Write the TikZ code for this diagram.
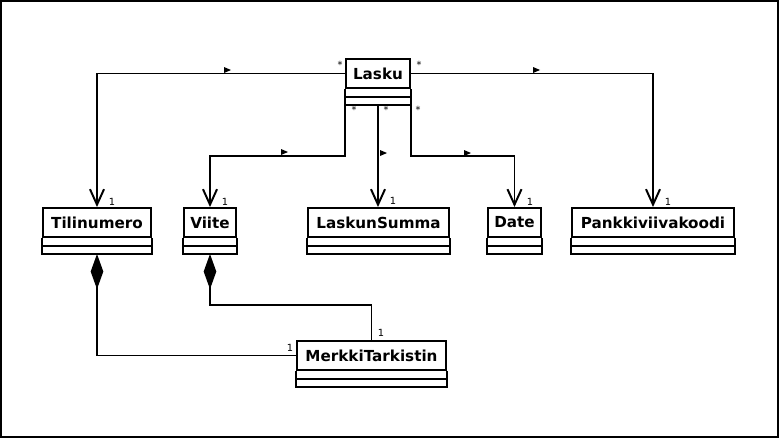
\documentclass[tikz,border=0pt]{standalone}
\usepackage{fontspec}
\setsansfont{DejaVu Sans}
\usetikzlibrary{arrows.meta,calc}

\tikzset{
  umlclass/.style={draw, line width=1.4pt, minimum height=0.725cm, inner sep=0pt,
    font=\sffamily\bfseries\fontsize{10.8}{12}\selectfont},
  assoc/.style={line width=1.4pt, -{Straight Barb[length=11pt,width=10pt]}},
  compos/.style={line width=1.4pt, {Diamond[length=25pt,width=9pt]}-},
  mult/.style={font=\sffamily\fontsize{7}{8}\selectfont, inner sep=0pt},
  navmark/.pic={\fill (0,0) -- (7,3) -- (0,6) -- cycle;}
}

\begin{document}
\begin{tikzpicture}[x=0.025cm, y=-0.025cm]
  \useasboundingbox (0,0) rectangle (783,441);
  \draw[line width=1.4pt] (1,1) rectangle (778,437);

  % classes
  \node[umlclass, minimum width=1.6cm] (lasku) at (378,73.5) {Lasku};
  \node[umlclass, minimum width=2.7cm] (tili) at (97,222.5) {Tilinumero};
  \node[umlclass, minimum width=1.3cm] (viite) at (210,222.5) {Viite};
  \node[umlclass, minimum width=3.525cm] (summa) at (378.5,222.5) {LaskunSumma};
  \node[umlclass, minimum width=1.325cm] (date) at (514.5,222.5) {Date};
  \node[umlclass, minimum width=4.05cm] (pankki) at (653,222.5) {Pankkiviivakoodi};
  \node[umlclass, minimum width=3.725cm] (merkki) at (371.5,355.5) {MerkkiTarkistin};

  % empty compartments
  \foreach \n in {lasku,tili,viite,summa,date,pankki,merkki}{
    \draw[line width=1.4pt] (\n.south west) -- ++(0,16) coordinate (\n-sw) -| (\n.south east);
    \draw[line width=1.4pt] ($(\n.south west)+(0,8)$) -- ($(\n.south east)+(0,8)$);
    \coordinate (\n-s) at ($(\n.south)+(0,16)$);
    \coordinate (\n-se) at ($(\n.south east)+(0,16)$);
  }

  % associations
  \draw[assoc] (lasku.west) -| (tili);
  \draw[assoc] (lasku.east) -| (pankki);
  \draw[assoc] (lasku-sw) -- ++(0,51) -| (viite);
  \draw[assoc] (lasku-s) -- (lasku-s |- summa.north);
  \draw[assoc] (lasku-se) -- ++(0,51) -| (date);

  % compositions
  \draw[compos] (tili-s) |- (merkki);
  \draw[compos] (viite-s) -- ++(0,51) -| (merkki);

  % direction marks
  \pic at (224,67) {navmark};
  \pic at (533,67) {navmark};
  \pic at (281,149) {navmark};
  \pic at (380,150) {navmark};
  \pic at (464,150) {navmark};

  % multiplicities
  \node[mult] (m1) at (340,65) {*};
  \node[mult] (m2) at (419,65) {*};
  \node[mult] (m3) at (354,110) {*};
  \node[mult] (m4) at (386,110) {*};
  \node[mult] (m5) at (418,110) {*};
  \node[mult] (n1) at (112,202) {1};
  \node[mult] (n2) at (225,202) {1};
  \node[mult] (n3) at (393,201) {1};
  \node[mult] (n4) at (530,202) {1};
  \node[mult] (n5) at (668,202) {1};
  \node[mult] (n6) at (290,348) {1};
  \node[mult] (n7) at (381,333) {1};
\end{tikzpicture}
\end{document}
